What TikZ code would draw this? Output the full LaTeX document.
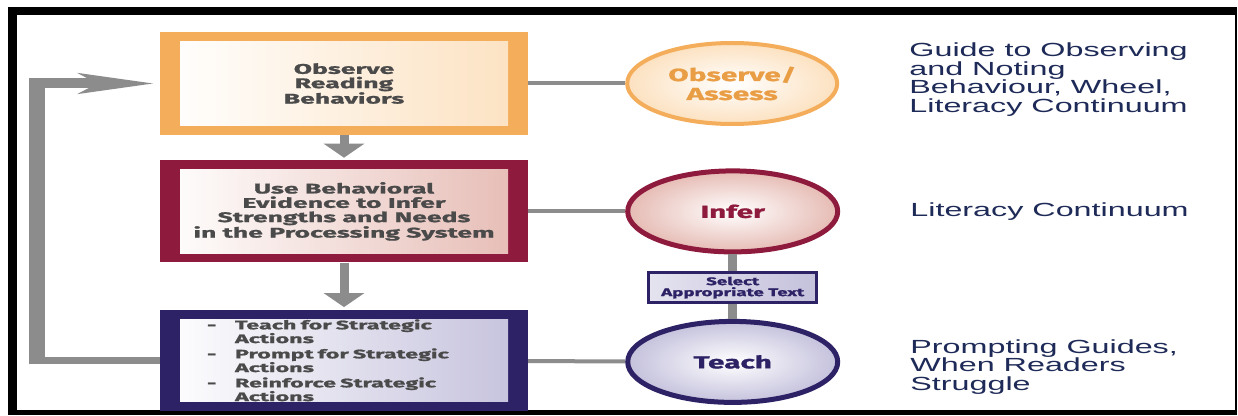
\documentclass[tikz,border=0pt]{standalone}
\usepackage{fontspec}
\usetikzlibrary{arrows.meta,positioning,shapes.geometric}

\newfontfamily\boxfont[FakeStretch=1.9,FakeBold=1.2]{Fira Sans}
\newfontfamily\ovalfont[FakeStretch=1.7,FakeBold=1.2]{Fira Sans}
\newfontfamily\guidefont[FakeStretch=1.7]{Liberation Sans}

\definecolor{obsorange}{HTML}{F4AD5A}
\definecolor{obspeach}{HTML}{FCE1C0}
\definecolor{obstext}{HTML}{E99D45}
\definecolor{infred}{HTML}{8E1B3D}
\definecolor{infpink}{HTML}{E6BBB4}
\definecolor{teanavy}{HTML}{2D2265}
\definecolor{tealilac}{HTML}{C4C1DC}
\definecolor{linkgray}{HTML}{8C8C8C}
\definecolor{boxtext}{HTML}{4A4A4A}
\definecolor{guideblue}{HTML}{1E2A57}

\begin{document}
\begin{tikzpicture}[x=1pt,y=1pt,
    stage/.style 2 args={rectangle,fill=#1,minimum width=368pt,minimum height=103pt,inner sep=0pt,
      text=boxtext,align=center,font=\boxfont\bfseries\fontsize{14}{14.3}\selectfont,
      path picture={\shade[left color=white,right color=#2]
        ([xshift=20pt,yshift=-9.5pt]path picture bounding box.north west) rectangle
        ([xshift=-20pt,yshift=9pt]path picture bounding box.south east);}},
    oval/.style 2 args={ellipse,draw=#1,line width=5pt,inner color=white,outer color=#2,
      minimum width=210pt,minimum height=81pt,inner sep=0pt,align=center,
      font=\ovalfont\bfseries\fontsize{17.5}{19}\selectfont},
    selectbox/.style={rectangle,draw=teanavy,line width=2.5pt,left color=tealilac!45,right color=tealilac,
      minimum width=168pt,minimum height=30pt,inner sep=0pt,align=center,text=teanavy,
      font=\ovalfont\bfseries\fontsize{11}{11}\selectfont},
    guide/.style={inner sep=0pt,align=left,text=guideblue,font=\guidefont\fontsize{19}{18.6}\selectfont},
    link/.style={color=linkgray,line width=4pt},
    flow/.style={color=linkgray,line width=9pt,-{Triangle[length=14pt,width=40pt]},shorten >=2.5pt},
    loop/.style={color=linkgray,line width=9pt}]

    % frame
    \useasboundingbox (0,0) rectangle (1238,415);
    \fill[white] (0,0) rectangle (1238,415);
    \fill[black] (8,0) rectangle (1237,408);
    \fill[white] (17,5) rectangle (1235,400);

    % left column
    \node[stage={obsorange}{obspeach}]   (observe)  at (344,331.5)            {Observe\\Reading\\Behaviors};
    \node[stage={infred}{infpink},minimum height=102pt]
                                         (evidence) [below=25pt of observe]   {Use Behavioral\\Evidence to Infer\\Strengths and Needs\\in the Processing System};
    \node[stage={teanavy}{tealilac},minimum height=101pt,text width=274pt,align=left,
          font=\boxfont\bfseries\fontsize{12.3}{11.8}\selectfont]
                                         (tactions) [below=47pt of evidence]
        {\makebox[28pt][l]{-}Teach for Strategic\\\hspace*{28pt}Actions\\[3.5pt]
         \makebox[28pt][l]{-}Prompt for Strategic\\\hspace*{28pt}Actions\\[3.5pt]
         \makebox[28pt][l]{-}Reinforce Strategic\\\hspace*{28pt}Actions};

    % middle column
    \node[oval={obsorange}{obspeach},line width=4pt,text=obstext]
                                         (assess)   [right=97pt of observe]   {Observe/\\Assess};
    \node[oval={infred}{infpink},text=infred]
                                         (infer)    [right=97pt of evidence]  {Infer};
    \node[selectbox]                     (select)   [below=17pt of infer]     {Select\\Appropriate Text};
    \node[oval={teanavy}{tealilac},text=teanavy]
                                         (teach)    [below=15pt of select]    {Teach};

    % right column
    \node[guide,anchor=west] (guideobs) [right=70pt of assess,yshift=4pt]  {Guide to Observing\\and Noting\\Behaviour, Wheel,\\Literacy Continuum};
    \node[guide,anchor=west] (guideinf) [right=70pt of infer]              {Literacy Continuum};
    \node[guide,anchor=west] (guidetea) [right=70pt of teach,yshift=-5pt]  {Prompting Guides,\\When Readers\\Struggle};

    % connectors
    \path[link]  (observe)  edge (assess)
                 (evidence) edge (infer)
                 (tactions) edge (teach);
    \path[link,line width=9pt] (infer) edge (select)
                 (select)   edge (teach);
    \path[flow]  (observe)  edge (evidence)
                 (evidence) edge (tactions);

    % feedback loop
    \coordinate[left=123pt of observe.west]  (looptop);
    \coordinate[left=123pt of tactions.west] (loopbot);
    \draw[loop,line width=7.5pt] (tactions.west) -- (loopbot);
    \draw[loop,line width=16pt,shorten <=-4pt,shorten >=-5pt] (loopbot) -- (looptop);
    \draw[loop,line width=10pt,shorten >=5pt,-{Stealth[length=75pt,width=20pt,inset=18pt]}] (looptop) -- (observe.west);
\end{tikzpicture}
\end{document}
